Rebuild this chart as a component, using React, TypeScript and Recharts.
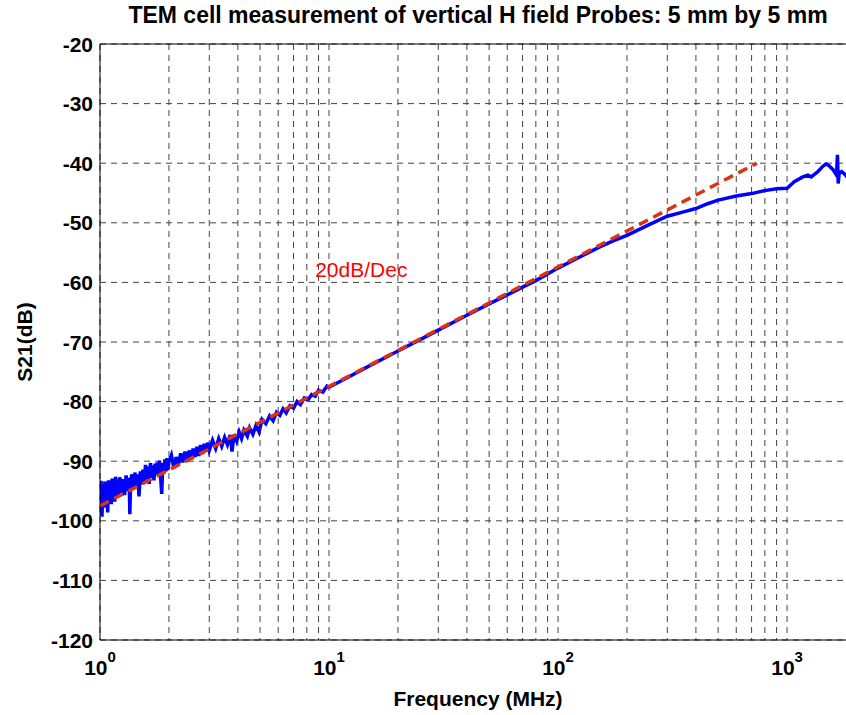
import React from "react";
import {
  CartesianGrid,
  Line,
  LineChart,
  ReferenceDot,
  ReferenceLine,
  XAxis,
  YAxis,
} from "recharts";

const FREQ_MHZ = [
  1.0, 1.01, 1.02, 1.03, 1.04, 1.05, 1.06, 1.07, 1.08, 1.09, 1.1, 1.11, 1.12, 1.13, 1.14, 1.15,
  1.16, 1.17, 1.18, 1.19, 1.2, 1.22, 1.24, 1.26, 1.28, 1.3, 1.32, 1.34, 1.35, 1.36, 1.38, 1.4,
  1.42, 1.44, 1.46, 1.48, 1.5, 1.52, 1.54, 1.56, 1.58, 1.6, 1.62, 1.64, 1.66, 1.68, 1.7, 1.72,
  1.74, 1.76, 1.78, 1.8, 1.82, 1.84, 1.86, 1.88, 1.9, 1.92, 1.94, 1.96, 1.98, 2.0, 2.05, 2.1,
  2.15, 2.2, 2.25, 2.3, 2.35, 2.4, 2.45, 2.5, 2.55, 2.6, 2.65, 2.7, 2.75, 2.8, 2.85, 2.9, 2.95,
  3.0, 3.1, 3.2, 3.3, 3.4, 3.5, 3.6, 3.7, 3.77, 3.85, 3.95, 4.05, 4.15, 4.25, 4.4, 4.5, 4.65,
  4.8, 4.95, 5.1, 5.3, 5.5, 5.7, 5.9, 6.1, 6.3, 6.5, 6.75, 7.0, 7.25, 7.5, 7.8, 8.1, 8.4, 8.7,
  9.0, 9.4, 9.8, 10, 12, 15, 20, 25, 30, 40, 50, 60, 70, 80, 100, 125, 153, 175, 200, 250, 300,
  350, 400, 450, 500, 600, 700, 800, 900, 1000, 1075, 1172, 1232, 1275, 1365, 1435, 1480, 1532,
  1590, 1644, 1660, 1672, 1690, 1730, 1790, 1830,
];
const S21_DB = [
  -96.0, -93.3, -99.3, -94.0, -97.8, -93.4, -96.4, -94.1, -98.6, -93.2, -96.2, -93.6, -97.2,
  -92.9, -95.4, -93.4, -96.8, -92.6, -95.2, -93.1, -96.0, -92.7, -95.3, -93.0, -95.7, -92.4,
  -95.0, -92.8, -98.9, -93.2, -92.2, -94.7, -91.9, -94.3, -92.2, -95.9, -91.7, -93.9, -91.4,
  -93.6, -90.6, -93.1, -90.9, -93.8, -90.3, -92.8, -90.7, -93.2, -90.4, -92.3, -90.2, -92.1,
  -89.9, -92.7, -95.5, -90.3, -92.0, -89.7, -91.7, -89.5, -91.5, -90.1, -89.0, -91.1, -89.3,
  -90.6, -88.7, -90.2, -88.4, -90.1, -88.2, -89.7, -87.9, -89.3, -87.6, -89.1, -87.3, -88.8,
  -87.1, -88.4, -86.9, -88.2, -86.5, -87.9, -86.2, -87.5, -86.0, -87.2, -85.6, -88.4, -85.5,
  -86.6, -85.1, -86.2, -84.8, -85.8, -84.4, -85.5, -84.0, -85.1, -83.0, -83.7, -82.4, -83.2,
  -81.8, -82.3, -81.2, -81.9, -80.7, -81.1, -80.0, -80.5, -79.4, -79.7, -78.8, -79.1, -78.1,
  -78.4, -77.4, -77.6, -76.0, -74.0, -71.5, -69.6, -68.0, -65.5, -63.6, -62.1, -60.8, -59.7,
  -57.6, -55.7, -54.0, -53.0, -52.1, -50.3, -48.9, -48.2, -47.6, -46.8, -46.2, -45.5, -45.1,
  -44.6, -44.3, -44.2, -43.1, -42.3, -42.0, -42.3, -41.4, -40.5, -40.1, -40.5, -41.1, -42.0,
  -38.6, -43.4, -41.6, -41.4, -41.9, -42.3,
];

// 20 dB/decade reference line
const FIT_FREQ = [1, 738];
const FIT_DB = [-97.5, -40];

const X_TICKS = [
  1, 2, 3, 4, 5, 6, 7, 8, 9, 10, 20, 30, 40, 50, 60, 70, 80, 90, 100, 200, 300, 400, 500, 600,
  700, 800, 900, 1000,
];
const Y_TICKS = [-120, -110, -100, -90, -80, -70, -60, -50, -40, -30, -20];

const FONT = "'Liberation Sans', Arial, sans-serif";

const measured = FREQ_MHZ.map((f, i) => ({ f, db: S21_DB[i] }));
const fit = FIT_FREQ.map((f, i) => ({ f, db: FIT_DB[i] }));

const XTick = (props: any) => {
  const { x, payload } = props;
  const e = Math.log10(payload.value);
  if (Math.abs(e - Math.round(e)) > 1e-9) return <g />;
  return (
    <text x={x} y={675} textAnchor="middle" fontFamily={FONT} fontWeight="bold" fontSize={21} fill="#000">
      <tspan>10</tspan>
      <tspan dy={-13} fontSize={15}>
        {Math.round(e)}
      </tspan>
    </text>
  );
};

const YTick = (props: any) => {
  const { y, payload } = props;
  return (
    <text x={93} y={y} dy="0.36em" textAnchor="end" fontFamily={FONT} fontWeight="bold" fontSize={21} fill="#000">
      {payload.value}
    </text>
  );
};

export default function App() {
  return (
    <div
      style={{
        position: "absolute",
        left: 0,
        top: 0,
        width: 846,
        height: 715,
        overflow: "hidden",
        background: "#fff",
        fontFamily: FONT,
      }}
    >
      <div
        style={{
          position: "absolute",
          left: 100,
          width: 756,
          top: 4,
          textAlign: "center",
          fontSize: 23,
          lineHeight: "23px",
          fontWeight: "bold",
          color: "#000",
          whiteSpace: "nowrap",
        }}
      >
        TEM cell measurement of vertical H field Probes: 5 mm by 5 mm
      </div>
      <LineChart width={856} height={715} margin={{ top: 44, right: 0, left: 40, bottom: 15 }}>
        <CartesianGrid stroke="#444" strokeDasharray="6 5" strokeWidth={1} />
        <XAxis
          dataKey="f"
          type="number"
          scale="log"
          domain={[1, 2000]}
          allowDataOverflow
          ticks={X_TICKS}
          interval={0}
          height={60}
          tickLine={false}
          axisLine={{ stroke: "#000", strokeWidth: 1 }}
          tick={<XTick />}
          label={{
            content: (p: any) => {
              const vb = p.viewBox;
              return (
                <text
                  x={vb.x + vb.width / 2}
                  y={706}
                  textAnchor="middle"
                  fontFamily={FONT}
                  fontWeight="bold"
                  fontSize={21}
                  fill="#000"
                >
                  Frequency (MHz)
                </text>
              );
            },
          }}
        />
        <YAxis
          type="number"
          domain={[-120, -20]}
          ticks={Y_TICKS}
          interval={0}
          width={60}
          tickLine={false}
          axisLine={{ stroke: "#000", strokeWidth: 1 }}
          tick={<YTick />}
          label={{
            content: (p: any) => {
              const vb = p.viewBox;
              const cy = vb.y + vb.height / 2;
              return (
                <text
                  x={24}
                  y={cy}
                  dy="0.36em"
                  transform={`rotate(-90, 24, ${cy})`}
                  textAnchor="middle"
                  fontFamily={FONT}
                  fontWeight="bold"
                  fontSize={21}
                  fill="#000"
                >
                  S21(dB)
                </text>
              );
            },
          }}
        />
        <ReferenceLine y={-20} stroke="#000" strokeWidth={1} />
        <Line
          data={measured}
          dataKey="db"
          type="linear"
          stroke="#0000FF"
          strokeWidth={3.5}
          dot={false}
          isAnimationActive={false}
        />
        <Line
          data={fit}
          dataKey="db"
          type="linear"
          stroke="#DD3311"
          strokeWidth={3.5}
          strokeDasharray="10 6"
          dot={false}
          isAnimationActive={false}
        />
        <ReferenceDot
          x={8.7}
          y={-59.1}
          r={0}
          shape={(p: any) => (
            <text x={p.cx} y={p.cy} fontFamily={FONT} fontSize={21} fill="#FF0000">
              20dB/Dec
            </text>
          )}
        />
      </LineChart>
    </div>
  );
}
